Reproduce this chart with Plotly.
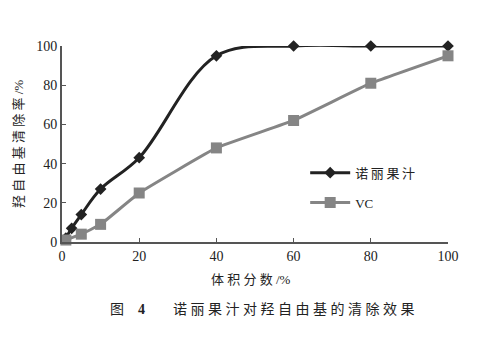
import plotly.graph_objects as go

noni_x = [1, 2.5, 5, 10, 20, 40, 60, 80, 100]
noni_y = [2, 7, 14, 27, 43, 95, 100, 100, 100]
vc_x = [1, 5, 10, 20, 40, 60, 80, 100]
vc_y = [1, 4, 9, 25, 48, 62, 81, 95]
x_ticks = [0, 20, 40, 60, 80, 100]
y_ticks = [0, 20, 40, 60, 80, 100]

FONT = "Liberation Serif, Noto Sans CJK SC, serif"


def spaced(s, sp="\u2005"):
    return sp.join(s)


fig = go.Figure()
fig.add_trace(go.Scatter(
    x=noni_x, y=noni_y, name=spaced("诺丽果汁", "\u2009"), mode="lines+markers", legendgroup="a",
    line=dict(color="#222222", width=3, shape="spline", smoothing=1.0),
    marker=dict(symbol="diamond", size=9, color="#222222"),
    cliponaxis=False,
))
fig.add_trace(go.Scatter(
    x=vc_x, y=vc_y, name="VC", mode="lines+markers", legendgroup="b",
    line=dict(color="#858585", width=3, shape="spline", smoothing=0.3),
    marker=dict(symbol="square", size=11, color="#858585"),
    cliponaxis=False,
))

fig.update_layout(
    width=492, height=340,
    margin=dict(l=62, r=44, t=46, b=98),
    plot_bgcolor="white", paper_bgcolor="white",
    font=dict(family=FONT, size=13, color="#222222"),
    showlegend=True,
    legend=dict(x=0.63, y=0.43, xanchor="left", yanchor="top",
                bgcolor="rgba(0,0,0,0)", font=dict(size=13),
                itemwidth=40, tracegroupgap=10),
    xaxis=dict(range=[0, 100], tickvals=x_ticks, ticks="inside", ticklen=4,
               showline=True, linecolor="#555555", linewidth=2, tickcolor="#555555",
               showgrid=False, zeroline=False, tickfont=dict(size=14)),
    yaxis=dict(range=[0, 100], tickvals=y_ticks, ticks="inside", ticklen=4,
               showline=True, linecolor="#555555", linewidth=2, tickcolor="#555555",
               showgrid=False, zeroline=False, tickfont=dict(size=14)),
)

fig.add_annotation(text=spaced("羟自由基清除率") + "\u2005/%", xref="paper", yref="paper",
                   x=-0.114, y=0.5, textangle=-90, showarrow=False,
                   font=dict(size=13), xanchor="center", yanchor="middle")
fig.add_annotation(text=spaced("体积分数") + "\u2005/%", xref="paper", yref="paper",
                   x=0.49, y=-0.19, showarrow=False, font=dict(size=13),
                   xanchor="center", yanchor="middle")
fig.add_annotation(text="图\u2003<b>4</b>\u2003\u2003" + spaced("诺丽果汁对羟自由基的清除效果"),
                   xref="paper", yref="paper",
                   x=0.119, y=-0.34, showarrow=False, font=dict(size=14),
                   xanchor="left", yanchor="middle")

fig.write_html("out.html")
